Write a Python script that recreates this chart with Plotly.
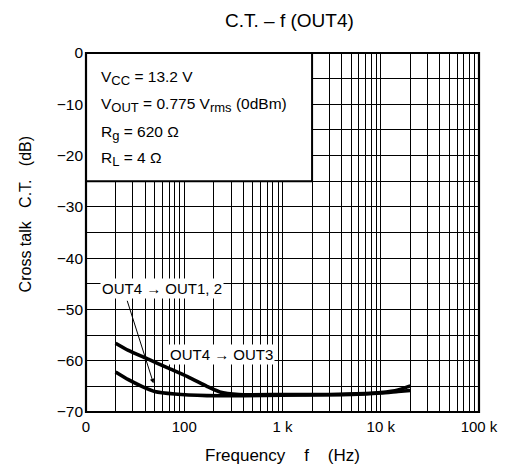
import math
import plotly.graph_objects as go

# ---- data ----
freq_out3 = [20, 27, 43, 68, 108, 170, 230, 360, 1000, 3000, 7000, 10000, 15000, 20000]
ct_out3 = [-56.6, -58.0, -59.7, -61.4, -63.1, -65.0, -66.1, -66.6, -66.6, -66.6, -66.4, -66.2, -65.7, -64.9]

freq_out12 = [20, 27, 37, 50, 80, 170, 400, 1000, 5000, 10000, 15000, 20000]
ct_out12 = [-62.2, -63.7, -65.0, -66.0, -66.5, -66.8, -66.8, -66.7, -66.6, -66.3, -66.0, -65.8]

x_tickvals = [10, 100, 1000, 10000, 100000]
x_ticktext = ["0", "100", "1 k", "10 k", "100 k"]
y_tickvals = [0, -10, -20, -30, -40, -50, -60, -70]

SUB = '<sub><span style="font-size:13px">{}</span></sub>'
inset_lines = [
    "V" + SUB.format("CC") + " = 13.2 V",
    "V" + SUB.format("OUT") + " = 0.775 V" + SUB.format("rms") + " (0dBm)",
    "R" + SUB.format("g") + " = 620 \u03a9",
    "R" + SUB.format("L") + " = 4 \u03a9",
]

# ---- layout geometry ----
W, H = 510, 469
L, R, T, B = 86, 22, 53, 57
PW, PH = W - L - R, H - T - B


def pxp(px):
    return (px - L) / PW


def pyp(py):
    return (H - B - py) / PH


def fx(f):
    return (math.log10(f) - 1) / 4


def dy(db):
    return (db + 70) / 70


FONT = "Liberation Sans, Arial, sans-serif"
GRID = "#000"
SP3 = "\u00a0" * 3
SP4 = "\u00a0" * 4

fig = go.Figure()
for fr, ct in [(freq_out3, ct_out3), (freq_out12, ct_out12)]:
    fig.add_trace(go.Scatter(x=fr, y=ct, mode="lines",
                             line=dict(color="black", width=3.6, shape="spline", smoothing=0.6),
                             showlegend=False, hoverinfo="skip"))

minor_x = [m * 10 ** e for e in range(1, 5) for m in range(2, 10)]

fig.update_layout(
    width=W, height=H,
    margin=dict(l=L, r=R, t=T, b=B),
    paper_bgcolor="white", plot_bgcolor="white",
    font=dict(family=FONT, color="black", size=15),
    xaxis=dict(type="log", range=[1, 5], tickvals=x_tickvals, ticktext=x_ticktext,
               showgrid=True, gridcolor=GRID, gridwidth=1.4, zeroline=False,
               ticks="", tickfont=dict(size=15), ticklabelstandoff=4,
               minor=dict(tickvals=minor_x, showgrid=True, gridcolor=GRID, gridwidth=1.4, ticks="")),
    yaxis=dict(range=[-70, 0], tickvals=y_tickvals, showgrid=True, gridcolor=GRID,
               gridwidth=1.4, zeroline=False, ticks="", tickfont=dict(size=15.5),
               ticklabelstandoff=2,
               minor=dict(dtick=5, showgrid=True, gridcolor=GRID, gridwidth=1.4, ticks="")),
)

# inset box (covers grid) and plot frame
fig.add_shape(type="rect", xref="paper", yref="paper", x0=0, x1=fx(2000), y0=dy(-25), y1=1,
              fillcolor="white", line=dict(color="black", width=2), layer="above")
fig.add_shape(type="rect", xref="paper", yref="paper", x0=0, x1=1, y0=0, y1=1,
              line=dict(color="black", width=2.2), layer="above")

# inset text
for txt, ypx in zip(inset_lines, [76, 103, 130.5, 157]):
    fig.add_annotation(text=txt, xref="paper", yref="paper", x=pxp(99), y=pyp(ypx + 2),
                       xanchor="left", yanchor="middle", showarrow=False, font=dict(size=15.5))

# curve labels
fig.add_annotation(text="OUT4 \u2192 OUT1, 2", xref="paper", yref="paper",
                   x=pxp(163.5), y=pyp(288), xanchor="center", yanchor="middle",
                   showarrow=False, bgcolor="white", borderpad=1, font=dict(size=15))
fig.add_annotation(text="OUT4 \u2192 OUT3", xref="paper", yref="paper",
                   x=pxp(225), y=pyp(354.5), xanchor="center", yanchor="middle",
                   showarrow=False, bgcolor="white", borderpad=1, font=dict(size=15))
fig.add_annotation(text="", xref="paper", yref="paper", x=pxp(155), y=pyp(383.3),
                   ax=-26.7, ay=-84, showarrow=True, arrowhead=2, arrowsize=0.9,
                   arrowwidth=1, arrowcolor="black")

# titles
fig.add_annotation(text="C.T. \u2013 f (OUT4)", xref="paper", yref="paper",
                   x=pxp(294), y=pyp(20), xanchor="center", yanchor="middle",
                   showarrow=False, font=dict(size=19))
fig.add_annotation(text="Frequency" + SP4 + "f" + SP4 + "(Hz)", xref="paper", yref="paper",
                   x=pxp(287), y=pyp(455), xanchor="center", yanchor="middle",
                   showarrow=False, font=dict(size=17))
fig.add_annotation(text="Cross talk" + SP3 + "C.T." + SP3 + "(dB)", xref="paper", yref="paper",
                   x=pxp(24), y=pyp(214), xanchor="center", yanchor="middle", textangle=-90,
                   showarrow=False, font=dict(size=16))

fig.write_html("out.html", config={"displayModeBar": False},
               post_script="document.body.style.margin='0';document.body.style.overflow='hidden';")
